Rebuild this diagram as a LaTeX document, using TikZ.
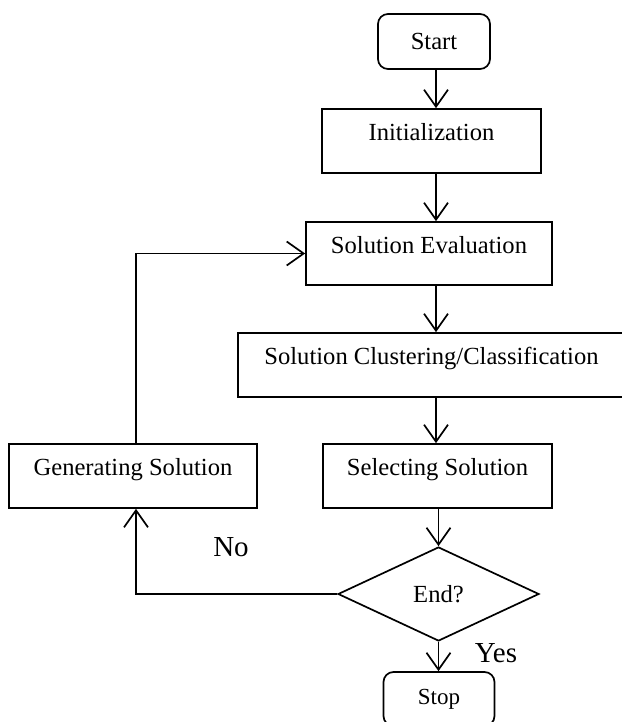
\documentclass[tikz,border=0pt]{standalone}
\usepackage{fontspec}
\setmainfont{Liberation Serif}
\usetikzlibrary{arrows.meta,shapes.geometric}
\begin{document}
\begin{tikzpicture}[x=1pt,y=-1pt,
  every node/.style={font=\fontsize{24.6}{28}\selectfont},
  line/.style={line width=1.7pt, line join=miter},
  arr/.style={line, -{Straight Barb[length=17pt,width=24pt,line width=1.7pt]}},
  term/.style={draw, line, rounded corners=10pt, inner sep=0pt, minimum width=#1, minimum height=55pt},
  procbox/.style={draw, line, inner sep=0pt, minimum width=#1, text height=31.5pt, text depth=32.5pt},
  decide/.style={draw, line, diamond, inner sep=0pt, minimum width=201pt, minimum height=94pt},
  lbl/.style={font=\fontsize{29}{32}\selectfont, inner sep=0pt}
]
\useasboundingbox[fill=white] (0,0) rectangle (621,722);
\coordinate (axis) at (436,0);
\coordinate (loopx) at (136,0);

\node[term=112pt] (start) at (434,41.5) {Start};
\node[procbox=219pt] (init) at (431.5,141) {Initialization};
\node[procbox=246pt, text height=31pt, text depth=32pt] (se) at (429,253.5) {Solution Evaluation};
\node[procbox=387pt] (clus) at (431.5,365) {Solution Clustering/Classification};
\node[procbox=248pt] (gen) at (133,476) {Generating Solution};
\node[procbox=229pt] (sel) at (437.5,476) {Selecting Solution};
\node[decide] (end) at (438.5,594) {End?};
\node[term=111pt, minimum height=54pt, font=\fontsize{23}{26}\selectfont] (stop) at (439,699) {Stop};

\node[lbl] (no) at (231,547) {No};
\node[lbl] (yes) at (496,653) {Yes};

\draw[arr] (start.south -| axis) -- (init.north -| axis);
\draw[arr] (init.south -| axis) -- (se.north -| axis);
\draw[arr] (se.south -| axis) -- (clus.north -| axis);
\draw[arr] (clus.south -| axis) -- (sel.north -| axis);
\draw[arr] (sel.south -| end.north) -- (end.north);
\draw[arr] (end.south) -- (stop.north -| end.south);
\draw[arr] (gen.north -| loopx) |- (se.west);
\draw[arr] (end.west) -| (gen.south -| loopx);
\end{tikzpicture}
\end{document}
